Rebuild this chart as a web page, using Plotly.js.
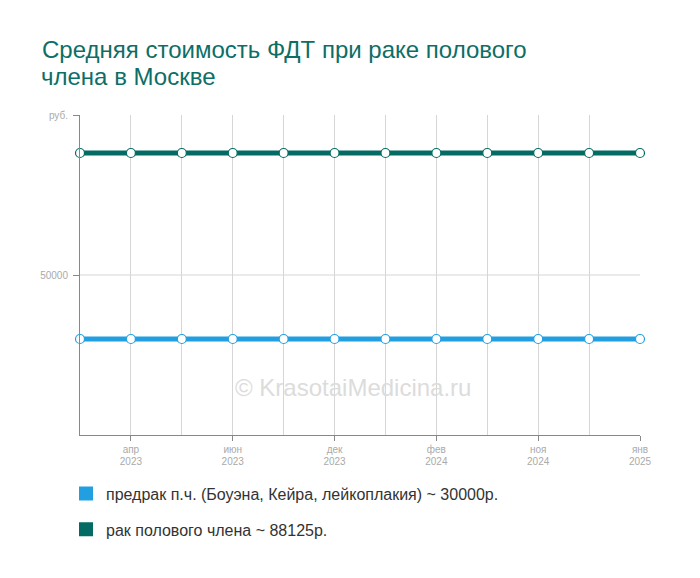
<!DOCTYPE html>
<html>
<head>
<meta charset="utf-8">
<script src="https://cdn.plot.ly/plotly-3.0.1.min.js"></script>
<style>
  body { margin: 0; background: #fff; }
  #chart { width: 700px; height: 578px; }
</style>
</head>
<body>
<div id="chart"></div>
<script>
// 12 points on the x axis, only every other one is labelled
let pointIndex = [0, 1, 2, 3, 4, 5, 6, 7, 8, 9, 10, 11];
let tickIndex = [1, 3, 5, 7, 9, 11];
let monthLabels = ["апр", "июн", "дек", "фев", "ноя", "янв"];
let yearLabels = ["2023", "2023", "2023", "2024", "2024", "2025"];

let precancerPrice = [30000, 30000, 30000, 30000, 30000, 30000, 30000, 30000, 30000, 30000, 30000, 30000];
let cancerPrice = [88125, 88125, 88125, 88125, 88125, 88125, 88125, 88125, 88125, 88125, 88125, 88125];

let seriesNames = ["предрак п.ч. (Боуэна, Кейра, лейкоплакия) ~ 30000р.", "рак полового члена ~ 88125р."];
let seriesColors = ["#229fe0", "#036b63"];

let traces = [];
[precancerPrice, cancerPrice].forEach(function (values, i) {
    traces.push({
        x: pointIndex, y: values, type: "scatter", mode: "lines+markers",
        line: { color: seriesColors[i], width: 5 },
        marker: { color: "#fff", size: 9, line: { color: seriesColors[i], width: 1.2 } },
        cliponaxis: false, showlegend: false, hoverinfo: "skip"
    });
});

// square swatches for the legend
seriesNames.forEach(function (name, i) {
    traces.push({
        x: [null], y: [null], type: "scatter", mode: "markers", name: name,
        legendgroup: "g" + i,
        marker: { color: seriesColors[i], symbol: "square", size: 14 }
    });
});

// empty trace so the year axis is drawn
traces.push({ x: [null], y: [null], xaxis: "x2", type: "scatter", showlegend: false });

let tickFont = { size: 10, color: "#aaa" };

let layout = {
    width: 700, height: 578,
    margin: { l: 80, r: 60, t: 115, b: 143 },
    paper_bgcolor: "#fff", plot_bgcolor: "#fff",
    font: { family: "Liberation Sans, Arial, sans-serif", color: "#999" },
    title: {
        text: "Средняя стоимость ФДТ при раке полового",
        font: { size: 24, color: "#0d6e67" },
        xref: "container", yref: "container",
        x: 42 / 700, xanchor: "left", y: 1 - 41 / 578, yanchor: "top"
    },
    xaxis: {
        range: [0, 11], tickmode: "array", tickvals: tickIndex, ticktext: monthLabels,
        showgrid: true, gridcolor: "#d6d6d6", zeroline: false,
        showline: true, linecolor: "#888", ticks: "outside", ticklen: 5, tickcolor: "#888",
        tickfont: tickFont, ticklabelstandoff: 0,
        minor: { dtick: 1, tick0: 0, showgrid: true, gridcolor: "#d6d6d6", ticks: "" },
        fixedrange: true
    },
    xaxis2: {
        overlaying: "x", anchor: "y", side: "bottom",
        range: [0, 11], tickmode: "array", tickvals: tickIndex, ticktext: yearLabels,
        showgrid: false, zeroline: false, showline: false, ticks: "",
        tickfont: tickFont, ticklabelstandoff: 19, fixedrange: true
    },
    yaxis: {
        range: [0, 100000], tickmode: "array", tickvals: [50000, 100000], ticktext: ["50000", "руб."],
        showgrid: false, zeroline: false,
        showline: true, linecolor: "#888", ticks: "outside", ticklen: 6, tickcolor: "#888",
        tickfont: tickFont, ticklabelstandoff: 3, fixedrange: true
    },
    shapes: [{
        type: "line", xref: "paper", yref: "y", x0: 0, x1: 1, y0: 50000, y1: 50000,
        line: { color: "#d6d6d6", width: 1 }, layer: "below"
    }],
    annotations: [{
        text: "члена в Москве", xref: "paper", yref: "paper",
        x: -41 / 560, y: 1.12, xanchor: "left", yanchor: "middle", showarrow: false,
        font: { size: 24, color: "#0d6e67" }
    }, {
        text: "© KrasotaiMedicina.ru", xref: "paper", yref: "paper",
        x: 0.4875, y: 0.1, showarrow: false,
        font: { size: 24, color: "#dcdcdc" }
    }],
    showlegend: true,
    legend: {
        orientation: "v", x: -0.025, y: -0.13, xanchor: "left", yanchor: "top",
        font: { size: 16, color: "#333" }, tracegroupgap: 12, traceorder: "grouped",
        bgcolor: "rgba(0,0,0,0)"
    }
};

Plotly.newPlot("chart", traces, layout, { displayModeBar: false, staticPlot: true });
</script>
</body>
</html>
